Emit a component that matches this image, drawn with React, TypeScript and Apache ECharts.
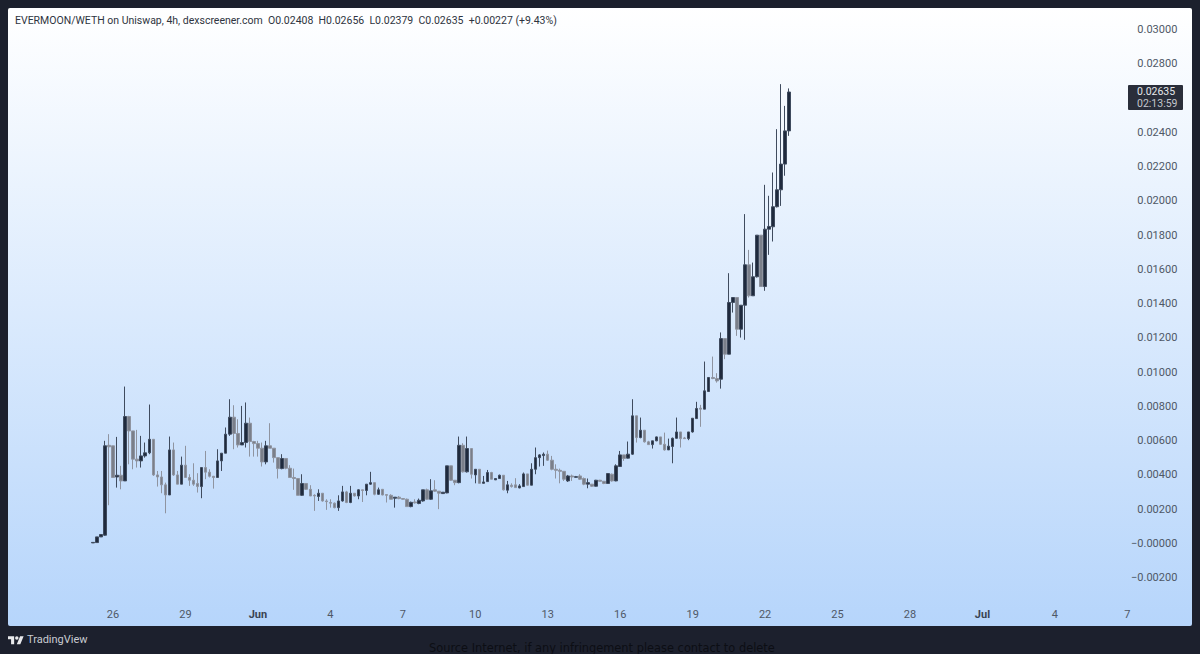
import { useEffect, useRef } from "react";
import * as echarts from "echarts";

// prices are stored in units of 0.00001 WETH
const PRICE_UNIT = 0.00001;

const opens = [
  2, 4, 37, 47, 572, 569, 387, 397, 364, 740,
  656, 491, 481, 510, 528, 607, 399, 387, 341, 282,
  545, 399, 345, 456, 384, 368, 349, 331, 442, 415,
  391, 384, 481, 526, 637, 736, 641, 574, 588, 701,
  594, 582, 555, 475, 569, 555, 500, 436, 495, 438,
  384, 378, 280, 349, 315, 280, 273, 292, 247, 238,
  234, 208, 247, 300, 238, 292, 276, 312, 308, 345,
  354, 286, 315, 284, 280, 263, 269, 261, 257, 214,
  241, 232, 247, 312, 257, 312, 304, 290, 294, 452,
  368, 354, 572, 417, 553, 399, 432, 350, 360, 413,
  370, 378, 397, 310, 339, 341, 323, 331, 405, 339,
  432, 500, 512, 520, 485, 432, 426, 420, 364, 393,
  385, 393, 378, 345, 345, 333, 368, 362, 349, 403,
  364, 448, 516, 497, 520, 744, 617, 660, 592, 576,
  598, 621, 578, 545, 565, 613, 650, 615, 611, 650,
  728, 789, 783, 886, 968, 962, 958, 1195, 1104, 1406,
  1435, 1250, 1390, 1626, 1445, 1556, 1799, 1499, 1834, 1848,
  1965, 2064, 2214, 2408,
];
const closes = [
  5, 37, 51, 569, 563, 384, 397, 364, 740, 656,
  491, 481, 510, 528, 607, 399, 387, 341, 282, 545,
  399, 345, 456, 384, 368, 345, 331, 442, 415, 391,
  384, 481, 526, 637, 736, 641, 574, 588, 701, 594,
  582, 555, 475, 569, 555, 500, 436, 495, 438, 384,
  378, 280, 349, 315, 276, 276, 292, 247, 243, 234,
  208, 247, 300, 238, 292, 276, 312, 308, 345, 354,
  286, 312, 282, 280, 257, 269, 261, 257, 214, 239,
  236, 251, 312, 257, 306, 304, 292, 298, 452, 368,
  354, 572, 417, 553, 403, 432, 350, 358, 413, 374,
  378, 397, 312, 341, 331, 325, 335, 405, 339, 432,
  500, 516, 520, 485, 432, 426, 420, 374, 393, 387,
  389, 374, 345, 354, 333, 368, 362, 349, 407, 364,
  452, 516, 495, 520, 744, 617, 660, 592, 576, 598,
  621, 578, 545, 567, 613, 650, 611, 611, 650, 730,
  787, 783, 890, 968, 962, 948, 1195, 1104, 1406, 1435,
  1250, 1390, 1626, 1445, 1556, 1799, 1499, 1834, 1850, 1965,
  2064, 2214, 2408, 2635,
];
const lows = [
  2, 4, 37, 43, 222, 384, 325, 315, 364, 461,
  432, 442, 442, 500, 520, 393, 331, 292, 175, 282,
  393, 345, 345, 384, 335, 335, 296, 263, 374, 384,
  319, 384, 422, 526, 627, 549, 559, 574, 559, 506,
  506, 506, 448, 461, 555, 471, 378, 432, 432, 384,
  312, 280, 276, 311, 276, 189, 247, 243, 195, 208,
  204, 189, 243, 234, 234, 273, 257, 241, 280, 341,
  280, 282, 280, 238, 257, 208, 257, 255, 214, 210,
  232, 228, 243, 253, 253, 300, 199, 288, 292, 364,
  339, 350, 413, 413, 378, 350, 350, 349, 358, 374,
  370, 378, 308, 292, 325, 323, 321, 331, 337, 339,
  403, 448, 452, 481, 426, 378, 350, 364, 358, 364,
  382, 370, 339, 321, 329, 331, 360, 345, 347, 360,
  362, 448, 481, 495, 516, 588, 613, 588, 574, 553,
  596, 574, 541, 545, 467, 611, 559, 611, 602, 646,
  728, 680, 783, 886, 958, 938, 903, 1075, 1104, 1347,
  1211, 1201, 1188, 1435, 1445, 1552, 1499, 1474, 1684, 1762,
  1961, 1970, 2146, 2379,
];
const highs = [
  5, 37, 51, 598, 637, 569, 621, 452, 915, 744,
  656, 662, 627, 588, 810, 607, 422, 422, 354, 623,
  588, 422, 506, 569, 403, 467, 409, 442, 539, 432,
  393, 549, 526, 676, 841, 806, 724, 802, 822, 734,
  598, 598, 588, 598, 701, 555, 500, 520, 495, 456,
  436, 378, 403, 349, 339, 286, 315, 292, 257, 257,
  238, 280, 335, 306, 335, 292, 315, 312, 345, 417,
  354, 325, 315, 284, 286, 269, 276, 263, 261, 243,
  257, 261, 312, 319, 374, 368, 304, 298, 452, 452,
  368, 623, 584, 623, 553, 432, 432, 393, 428, 417,
  378, 401, 397, 364, 350, 380, 345, 413, 405, 467,
  559, 520, 530, 541, 510, 461, 436, 420, 399, 401,
  393, 403, 384, 378, 345, 370, 370, 362, 409, 407,
  461, 539, 516, 594, 841, 744, 734, 660, 598, 598,
  623, 621, 646, 611, 617, 734, 650, 621, 650, 730,
  826, 808, 1061, 968, 1090, 993, 1231, 1195, 1577, 1435,
  1435, 1390, 1922, 1713, 1639, 1799, 1799, 2093, 2029, 2165,
  2418, 2681, 2554, 2656,
];

// one label every 18 candles (3 days of 4h bars), first one on bar 5
const dateLabels = ["26", "29", "Jun", "4", "7", "10", "13", "16", "19", "22", "25", "28", "Jul", "4", "7"];
const FIRST_LABEL = 5;
const LABEL_STEP = 18;
const BAR_SLOTS = 258;

const priceTicks = { min: -0.002, max: 0.03, interval: 0.002 };
// this tick sits under the last-price tag in the reference
const HIDDEN_TICK = 0.026;

const headerText =
  "EVERMOON/WETH on Uniswap, 4h, dexscreener.com  O0.02408  H0.02656  L0.02379  C0.02635  +0.00227 (+9.43%)";
const lastPrice = "0.02635";
const countdown = "02:13:59";

const FONT = "Roboto, sans-serif";

echarts.graphic.registerShape(
  "tvLogo",
  echarts.graphic.extendPath(
    "M14 22H7V11H0V4h14v18zM28 22h-8l7.5-18h8L28 22zM16 8a4 4 0 1 0 8 0a4 4 0 1 0 -8 0z",
    {},
  ),
);

function formatPrice(v: number) {
  if (Math.abs(v - HIDDEN_TICK) < 1e-9) return "";
  // TradingView prints the zero line as -0.00000 here
  if (Math.abs(v) < 1e-9) return "\u22120.00000";
  return v < 0 ? `\u2212${Math.abs(v).toFixed(5)}` : v.toFixed(5);
}

export default function App() {
  const ref = useRef<HTMLDivElement>(null);

  useEffect(() => {
    if (!ref.current) return;
    document.body.style.margin = "0";
    const chart = echarts.init(ref.current, null, { renderer: "svg" });
    chart.setOption({
      animation: false,
      backgroundColor: "#1c202d",
      grid: { left: 90.9, width: 1038.45, top: 29.5, height: 548 },
      xAxis: {
        type: "category",
        data: Array.from({ length: BAR_SLOTS }, (_, i) => String(i)),
        boundaryGap: true,
        axisLine: { show: false },
        axisTick: { show: false },
        splitLine: { show: false },
        axisLabel: {
          margin: 31,
          color: "#4f5866",
          fontFamily: FONT,
          fontSize: 11,
          interval: (i: number) => i >= FIRST_LABEL && (i - FIRST_LABEL) % LABEL_STEP === 0,
          formatter: (_: string, i: number) => {
            const label = dateLabels[(i - FIRST_LABEL) / LABEL_STEP] ?? "";
            return label === "Jun" || label === "Jul" ? `{b|${label}}` : label;
          },
          rich: {
            b: { fontFamily: FONT, fontSize: 11, fontWeight: "bold", color: "#3a4352" },
          },
        },
      },
      yAxis: {
        type: "value",
        position: "right",
        min: priceTicks.min,
        max: priceTicks.max,
        interval: priceTicks.interval,
        axisLine: { show: false },
        axisTick: { show: false },
        splitLine: { show: false },
        axisLabel: {
          margin: 48,
          align: "right",
          color: "#4f5866",
          fontFamily: FONT,
          fontSize: 11,
          formatter: formatPrice,
        },
      },
      series: [
        {
          type: "candlestick",
          barWidth: 3,
          data: opens.map((o, i) =>
            [o, closes[i], lows[i], highs[i]].map((v) => +(v * PRICE_UNIT).toFixed(5)),
          ),
          itemStyle: {
            color: "#1f2a3d",
            color0: "#7a7f8a",
            borderColor: "#3f4b5e",
            borderColor0: "#8f94a0",
            borderWidth: 1,
          },
        },
      ],
      graphic: [
        {
          type: "rect",
          silent: true,
          z: 0,
          shape: { x: 8, y: 8, width: 1184, height: 618, r: 2 },
          style: {
            fill: new echarts.graphic.LinearGradient(0, 0, 0, 1, [
              { offset: 0, color: "#ffffff" },
              { offset: 1, color: "#b6d5fb" },
            ]),
          },
        },
        {
          type: "text",
          z: 10,
          x: 15,
          y: 15,
          style: { text: headerText, fill: "#2e3440", font: `10.5px ${FONT}` },
        },
        {
          type: "rect",
          z: 10,
          shape: { x: 1128, y: 85, width: 55, height: 25, r: 1 },
          style: { fill: "#2a2e3a" },
        },
        {
          type: "text",
          z: 11,
          x: 1137,
          y: 86,
          style: { text: lastPrice, fill: "#e6e8eb", font: `10.5px ${FONT}` },
        },
        {
          type: "text",
          z: 11,
          x: 1137,
          y: 98,
          style: { text: countdown, fill: "#c4c7cd", font: `10.5px ${FONT}` },
        },
        {
          type: "tvLogo",
          z: 10,
          x: 8,
          y: 634.5,
          scaleX: 0.44,
          scaleY: 0.44,
          style: { fill: "#e8e9ec" },
        },
        {
          type: "text",
          z: 10,
          x: 27,
          y: 634,
          style: { text: "TradingView", fill: "#c9ccd2", font: `11px ${FONT}` },
        },
        {
          type: "text",
          z: 10,
          x: 429,
          y: 642,
          style: {
            text: "Source Internet, if any infringement please contact to delete",
            fill: "#0c0e14",
            font: "11.4px 'DejaVu Sans', sans-serif",
          },
        },
      ],
    });
    return () => chart.dispose();
  }, []);

  return <div ref={ref} style={{ width: 1200, height: 654 }} />;
}
